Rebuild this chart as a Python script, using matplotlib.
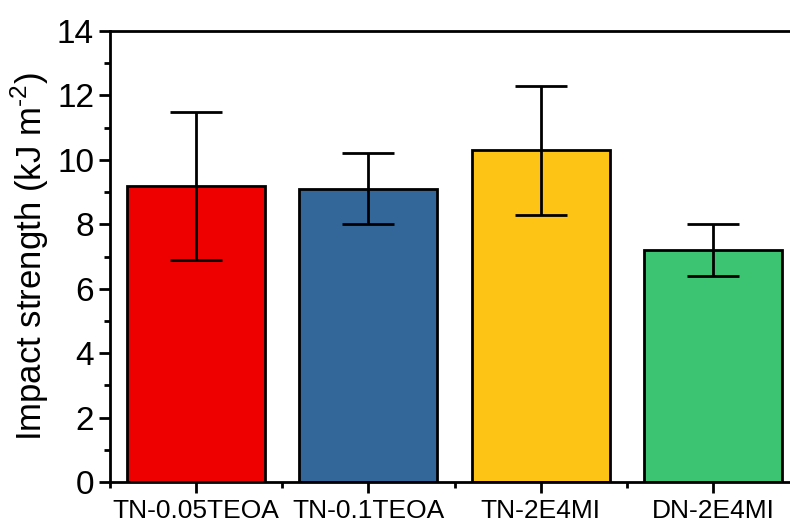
import matplotlib.pyplot as plt
from matplotlib.ticker import MultipleLocator, FixedLocator

plt.rcParams['font.family'] = ['Liberation Sans', 'DejaVu Sans']
plt.rcParams['mathtext.fontset'] = 'custom'
plt.rcParams['mathtext.rm'] = 'Liberation Sans'

# Daten
samples = ["TN-0.05TEOA", "TN-0.1TEOA", "TN-2E4MI", "DN-2E4MI"]
impact = [9.2, 9.1, 10.3, 7.2]
impact_err = [2.3, 1.1, 2.0, 0.8]
bar_colors = ["#EE0000", "#336699", "#FDC315", "#3CC472"]

fig = plt.figure(figsize=(7.9, 5.22), dpi=100)
# rechte Achse liegt knapp ausserhalb des Bildes
ax = fig.add_axes([110 / 790, 40 / 522, 689 / 790, 451 / 522])

x = range(len(samples))
ax.bar(x, impact, width=0.8, color=bar_colors, edgecolor="black", linewidth=2,
       yerr=impact_err, capsize=19,
       error_kw=dict(ecolor="black", elinewidth=2, capthick=2), zorder=2)

ax.set_xlim(-0.5, 3.5)
ax.set_ylim(0, 14)
ax.set_xticks(list(x))
ax.set_xticklabels(samples, fontsize=19)
ax.xaxis.set_minor_locator(FixedLocator([-0.5, 0.5, 1.5, 2.5, 3.5]))
ax.yaxis.set_major_locator(MultipleLocator(2))
ax.yaxis.set_minor_locator(MultipleLocator(1))
ax.tick_params(axis="y", labelsize=24)
ax.tick_params(which="major", direction="out", length=8, width=2)
ax.tick_params(which="minor", direction="out", length=4, width=2)
ax.tick_params(axis="x", pad=4)
for side in ax.spines.values():
    side.set_linewidth(2)

ax.set_ylabel("Impact strength (kJ m$^{\\text{-2}}$)", fontsize=25)
ax.yaxis.set_label_coords(-0.086, 0.5)

plt.savefig("out.png", dpi=100)
